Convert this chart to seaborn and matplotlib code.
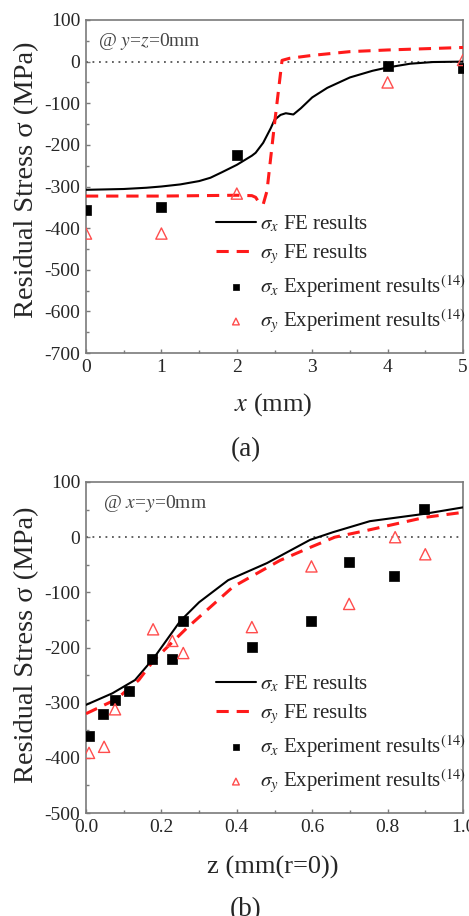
import matplotlib
matplotlib.use('Agg')
import matplotlib.pyplot as plt
from matplotlib.ticker import MultipleLocator, FormatStrFormatter
import seaborn as sns

# (a) along x, @ y=z=0mm
a_fe_x = [0, 0.5, 0.8, 1.0, 1.25, 1.5, 1.65, 1.8, 2.0, 2.2, 2.25, 2.35, 2.45, 2.5, 2.58, 2.65, 2.75, 2.85, 3.0, 3.2, 3.5, 3.8, 4.0, 4.3, 4.6, 5.0]
a_fe_sx = [-308, -306, -303, -300, -295, -287, -279, -266, -248, -226, -219, -195, -160, -140, -128, -124, -127, -112, -86, -63, -38, -22, -14, -5, -1, 0]
a_fe_y = [0, 1.0, 2.0, 2.2, 2.25, 2.3, 2.35, 2.4, 2.5, 2.6, 2.7, 3.0, 3.5, 4.0, 4.5, 5.0]
a_fe_sy = [-323, -323, -321, -322, -326, -340, -343, -311, -150, 3, 8, 15, 24, 28, 31, 34]
a_exp_x = [0, 1, 2, 4, 5]
a_exp_sx = [-357, -350, -224, -10, -16]
a_exp_sy = [-413, -413, -317, -50, 4]

# (b) along z, @ x=y=0mm
b_fe_x = [0, 0.07, 0.13, 0.18, 0.25, 0.3, 0.377, 0.48, 0.594, 0.655, 0.753, 0.895, 1.0]
b_fe_sx = [-304, -283, -259, -219, -152, -118, -78, -47, -5, 9, 29, 42, 54]
b_fe_z = [0, 0.08, 0.14, 0.18, 0.267, 0.39, 0.515, 0.6, 0.66, 0.75, 0.9, 1.0]
b_fe_sy = [-320, -294, -259, -223, -165, -90, -42, -17, 0, 13, 36, 45]
b_sx_z = [0.008, 0.045, 0.077, 0.115, 0.174, 0.229, 0.256, 0.44, 0.598, 0.698, 0.817, 0.897]
b_sx = [-361, -320, -295, -279, -221, -221, -152, -199, -152, -45, -71, 51]
b_sy_z = [0.008, 0.048, 0.077, 0.178, 0.229, 0.258, 0.44, 0.598, 0.698, 0.82, 0.9]
b_sy = [-391, -380, -312, -167, -188, -210, -163, -53, -121, 0, -31]

sns.set_style('ticks')
plt.rcParams['font.family'] = ['Liberation Serif', 'DejaVu Serif']
plt.rcParams['mathtext.fontset'] = 'stix'
plt.rcParams['axes.unicode_minus'] = False

RED = '#ff1a1a'
TRI = '#ff4d4d'
GRAY = '#7a7a7a'

fig = plt.figure(figsize=(4.69, 9.16), dpi=100)
ax_a = fig.add_axes([86/469, 1-353/916, 377/469, 333/916])
ax_b = fig.add_axes([86/469, 1-813/916, 377/469, 331/916])

def draw(ax, fx, fsx, fy, fsy, ex, esx, ey, esy):
    ax.axhline(0, color='#555555', lw=1.3, ls=(0, (1, 2.6)), zorder=1)
    sns.lineplot(x=fx, y=fsx, ax=ax, color='black', lw=1.5, sort=False,
                 estimator=None, label=r'$\sigma_x$ FE results', zorder=3)
    sns.lineplot(x=fy, y=fsy, ax=ax, color=RED, lw=2.2, sort=False,
                 estimator=None, linestyle=(0, (4, 2.6)),
                 label=r'$\sigma_y$ FE results', zorder=3)
    sns.scatterplot(x=ex, y=esx, ax=ax, marker='s', s=55, facecolor='black',
                    edgecolor='black', linewidth=0.5, zorder=4,
                    label=r'$\sigma_x$ Experiment results$^{(14)}$')
    sns.scatterplot(x=ey, y=esy, ax=ax, marker='^', s=65, facecolor='none',
                    edgecolor=TRI, linewidth=1.0, zorder=4,
                    label=r'$\sigma_y$ Experiment results$^{(14)}$')
    ax.legend(loc='lower right', bbox_to_anchor=(1.03, 0.03), frameon=False,
              fontsize=15, markerscale=0.6, handlelength=1.9,
              handletextpad=0.2, labelspacing=0.35, borderaxespad=0)
    for s in ax.spines.values():
        s.set_visible(True)
        s.set_color(GRAY)
        s.set_linewidth(1.2)
    ax.tick_params(which='both', direction='in', color=GRAY, labelsize=14,
                   top=False, right=False)
    ax.tick_params(which='major', length=3, width=1, pad=4)
    ax.tick_params(which='minor', length=2, width=1)

draw(ax_a, a_fe_x, a_fe_sx, a_fe_y, a_fe_sy, a_exp_x, a_exp_sx, a_exp_x, a_exp_sy)
ax_a.set_xlim(0, 5)
ax_a.set_ylim(-700, 100)
ax_a.xaxis.set_major_locator(MultipleLocator(1))
ax_a.xaxis.set_minor_locator(MultipleLocator(0.5))
ax_a.yaxis.set_major_locator(MultipleLocator(100))
ax_a.yaxis.set_minor_locator(MultipleLocator(50))
ax_a.set_xlabel('')
ax_a.set_ylabel('')
ax_a.text(0.033, 0.935, r'@ $y$=$z$=0mm', transform=ax_a.transAxes,
          fontsize=14, color='#444444', va='center', ha='left')

draw(ax_b, b_fe_x, b_fe_sx, b_fe_z, b_fe_sy, b_sx_z, b_sx, b_sy_z, b_sy)
ax_b.set_xlim(0, 1)
ax_b.set_ylim(-500, 100)
ax_b.xaxis.set_major_locator(MultipleLocator(0.2))
ax_b.xaxis.set_minor_locator(MultipleLocator(0.1))
ax_b.yaxis.set_major_locator(MultipleLocator(100))
ax_b.yaxis.set_minor_locator(MultipleLocator(50))
ax_b.xaxis.set_major_formatter(FormatStrFormatter('%.1f'))
ax_b.set_xlabel('')
ax_b.set_ylabel('')
ax_b.text(0.045, 0.935, r'@ $x$=$y$=0mm', transform=ax_b.transAxes,
          fontsize=14, color='#444444', va='center', ha='left')

fig.text(27/469, 1-180/916, 'Residual Stress σ (MPa)', rotation=90,
         ha='center', va='center', fontsize=20.5)
fig.text(27/469, 1-645/916, 'Residual Stress σ (MPa)', rotation=90,
         ha='center', va='center', fontsize=20.5)
fig.text(273/469, 1-405/916, r'$x$ (mm)', ha='center', va='center', fontsize=19)
fig.text(246/469, 1-450/916, '(a)', ha='center', va='center', fontsize=19.5)
fig.text(273/469, 1-867/916, 'z (mm(r=0))', ha='center', va='center', fontsize=19)
fig.text(246/469, 1-910/916, '(b)', ha='center', va='center', fontsize=19.5)

fig.savefig('out.png', dpi=100)
